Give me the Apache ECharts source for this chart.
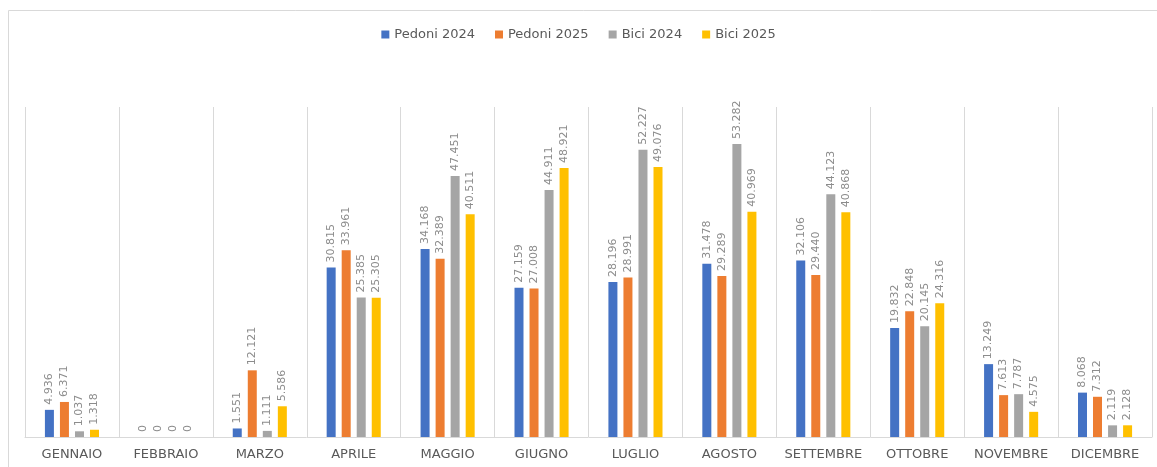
<!DOCTYPE html>
<html>
<head>
<meta charset="utf-8">
<script src="https://cdn.jsdelivr.net/npm/echarts@6/dist/echarts.min.js"></script>
<style>
  html, body { margin: 0; padding: 0; background: #fff; }
  #chart { width: 1157px; height: 467px; }
</style>
</head>
<body>
<div id="chart"></div>
<script>
const months = ['GENNAIO', 'FEBBRAIO', 'MARZO', 'APRILE', 'MAGGIO', 'GIUGNO', 'LUGLIO', 'AGOSTO', 'SETTEMBRE', 'OTTOBRE', 'NOVEMBRE', 'DICEMBRE']
const pedoni2024 = [4936, 0, 1551, 30815, 34168, 27159, 28196, 31478, 32106, 19832, 13249, 8068]
const pedoni2025 = [6371, 0, 12121, 33961, 32389, 27008, 28991, 29289, 29440, 22848, 7613, 7312]
const bici2024 = [1037, 0, 1111, 25385, 47451, 44911, 52227, 53282, 44123, 20145, 7787, 2119]
const bici2025 = [1318, 0, 5586, 25305, 40511, 48921, 49076, 40969, 40868, 24316, 4575, 2128]

// punto come separatore delle migliaia
const fmt = v => String(v).replace(/\B(?=(\d{3})+(?!\d))/g, '.')
const fontFamily = '"DejaVu Sans", "Noto Sans", sans-serif'

function makeSeries(name, data, color) {
  return {
    name: name,
    type: 'bar',
    data: data,
    barWidth: 9,
    barGap: '67%',
    itemStyle: { color: color },
    label: {
      show: true,
      position: 'top',
      rotate: 90,
      align: 'left',
      verticalAlign: 'middle',
      distance: 5,
      color: '#8c8c8c',
      fontSize: 11,
      fontFamily: fontFamily,
      formatter: p => fmt(p.value)
    }
  }
}

const chart = echarts.init(document.getElementById('chart'))
chart.setOption({
  animation: false,
  graphic: [{
    type: 'rect',
    shape: { x: 8.5, y: 10.5, width: 1170, height: 470 },
    style: { fill: 'none', stroke: '#d9d9d9', lineWidth: 1 },
    silent: true
  }],
  legend: {
    top: 23,
    left: 'center',
    itemWidth: 8,
    itemHeight: 8,
    itemGap: 20,
    icon: 'rect',
    textStyle: { color: '#595959', fontSize: 13, fontFamily: fontFamily }
  },
  grid: { left: 25, right: 5, top: 107, bottom: 30 },
  xAxis: {
    type: 'category',
    data: months,
    axisLine: { lineStyle: { color: '#d9d9d9' } },
    axisTick: { show: false },
    splitLine: { show: true, lineStyle: { color: '#d9d9d9' } },
    axisLabel: { color: '#595959', fontSize: 13, fontFamily: fontFamily, margin: 11, interval: 0 }
  },
  yAxis: {
    type: 'value',
    min: 0,
    max: 60000,
    show: false,
    splitLine: { show: false }
  },
  series: [
    makeSeries('Pedoni 2024', pedoni2024, '#4472c4'),
    makeSeries('Pedoni 2025', pedoni2025, '#ed7d31'),
    makeSeries('Bici 2024', bici2024, '#a5a5a5'),
    makeSeries('Bici 2025', bici2025, '#ffc000')
  ]
})
</script>
</body>
</html>
